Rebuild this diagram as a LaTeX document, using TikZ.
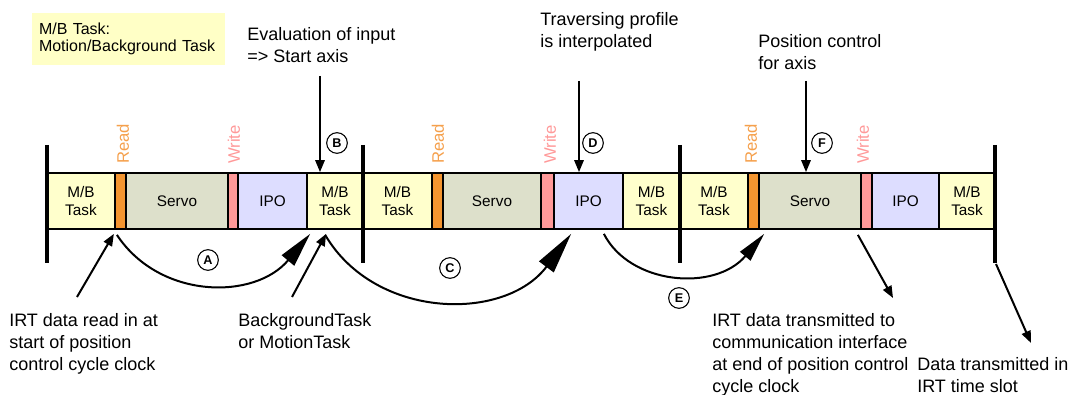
\documentclass[tikz,border=0pt]{standalone}
\usepackage{fontspec}
\setmainfont{Liberation Sans}
\usetikzlibrary{arrows.meta,calc}
\definecolor{mbc}{HTML}{FFFFCC}
\definecolor{servoc}{HTML}{DDE0CB}
\definecolor{ipoc}{HTML}{DDDDFF}
\definecolor{readc}{HTML}{F39530}
\definecolor{writec}{HTML}{FF9999}
\definecolor{readtxt}{HTML}{F5A04C}
\definecolor{legendc}{HTML}{FFFFC6}
\newcommand\blk[5]{\node[blockbase,#4,minimum width={(#3-#2)*0.75pt}] (#1) at ({(#2+#3)/2},201) {#5};}
\begin{document}
\begin{tikzpicture}[x=0.75pt,y=-0.75pt,
  blockbase/.style={draw=black,line width=1.3pt,minimum height=42pt,inner sep=0pt,align=center,
    font=\fontsize{11.5}{14}\selectfont},
  mbbox/.style={fill=mbc},
  servobox/.style={fill=servoc},
  ipobox/.style={fill=ipoc},
  readbox/.style={fill=readc},
  writebox/.style={fill=writec},
  bar/.style={line width=3pt},
  ann/.style={align=left,inner sep=0pt,font=\fontsize{13.5}{16.5}\selectfont},
  rwlabel/.style={rotate=90,anchor=west,inner sep=0pt,font=\fontsize{12.5}{14}\selectfont},
  circ/.style={circle,draw,line width=0.8pt,inner sep=0pt,minimum size=15.5pt,
    font=\fontsize{9.5}{11}\selectfont\bfseries},
  smallarr/.style={line width=1.5pt,-{Triangle[length=9pt,width=7pt]}},
  arcA/.style={line width=1.5pt,-{Triangle[length=26pt,width=12pt]}},
  arcC/.style={line width=1.5pt,-{Triangle[length=31pt,width=13.5pt]}},
  arcE/.style={line width=1.5pt,-{Triangle[length=22pt,width=10pt]}},
  legend/.style={fill=legendc,align=left,inner xsep=5.25pt,inner ysep=0pt,text width=134.25pt,
    minimum height=39pt,font=\fontsize{12}{12.75}\selectfont}
]
\useasboundingbox (0,0) rectangle (1087,395);

% legend
\node[legend] (legend) at (128.5,39) {M/B Task:\\Motion/Background Task};

% cycle 1
\blk{mb1}{47}{115}{mbbox}{M/B\\Task}
\blk{rd1}{115}{126}{readbox}{}
\blk{servo1}{126}{228}{servobox}{Servo}
\blk{wr1}{228}{238}{writebox}{}
\blk{ipo1}{238}{307}{ipobox}{IPO}
\blk{mb2}{307}{363}{mbbox}{M/B\\Task}
% cycle 2
\blk{mb3}{363}{432}{mbbox}{M/B\\Task}
\blk{rd2}{432}{443}{readbox}{}
\blk{servo2}{443}{541}{servobox}{Servo}
\blk{wr2}{541}{554}{writebox}{}
\blk{ipo2}{554}{623}{ipobox}{IPO}
\blk{mb4}{623}{680}{mbbox}{M/B\\Task}
% cycle 3
\blk{mb5}{680}{748}{mbbox}{M/B\\Task}
\blk{rd3}{748}{759}{readbox}{}
\blk{servo3}{759}{861}{servobox}{Servo}
\blk{wr3}{861}{872}{writebox}{}
\blk{ipo3}{872}{939}{ipobox}{IPO}
\blk{mb6}{939}{995}{mbbox}{M/B\\Task}

% cycle bars
\coordinate (bar1t) at (47,145);  \coordinate (bar1b) at (47,263);
\coordinate (bar2t) at (363,145); \coordinate (bar2b) at (363,263);
\coordinate (bar3t) at (680,145); \coordinate (bar3b) at (680,263);
\coordinate (bar4t) at (995,145); \coordinate (bar4b) at (995,263);
\draw[bar] (bar1t) -- (bar1b);
\draw[bar] (bar2t) -- (bar2b);
\draw[bar] (bar3t) -- (bar3b);
\draw[bar] (bar4t) -- (bar4b);

% Read / Write labels
\node[rwlabel,text=readtxt] (rl1) at (123,164) {Read};
\node[rwlabel,text=writec] (wl1) at (234,164) {Write};
\node[rwlabel,text=readtxt] (rl2) at (438,164) {Read};
\node[rwlabel,text=writec] (wl2) at (550,164) {Write};
\node[rwlabel,text=readtxt] (rl3) at (751,164) {Read};
\node[rwlabel,text=writec] (wl3) at (863,164) {Write};

% top annotations (base = last line's baseline)
\node[ann,anchor=base west] (eval) at (247,63) {Evaluation of input\\=> Start axis};
\node[ann,anchor=base west] (trav) at (540,48) {Traversing profile\\is interpolated};
\node[ann,anchor=base west] (pos) at (758,70) {Position control\\for axis};

\coordinate (bsrc) at (320,76);
\coordinate (dsrc) at (579,81);
\coordinate (fsrc) at (806,81);
\draw[smallarr] (bsrc) -- (bsrc |- mb2.north);
\draw[smallarr] (dsrc) -- (dsrc |- ipo2.north);
\draw[smallarr] (fsrc) -- (fsrc |- servo3.north);

\node[circ] (B) at (337,143) {B};
\node[circ] (D) at (593,143) {D};
\node[circ] (F) at (822,143) {F};

% bottom annotations
\node[ann,anchor=base west] (irt) at (9,370) {IRT data read in at\\start of position\\control cycle clock};
\node[ann,anchor=base west] (bgt) at (238,348) {BackgroundTask\\or MotionTask};
\node[ann,anchor=base west] (irtout) at (712,392) {IRT data transmitted to\\communication interface\\at end of position control\\cycle clock};
\node[ann,anchor=base west] (slot) at (917,392) {Data transmitted in\\IRT time slot};

\coordinate (irtsrc) at (77,297);
\coordinate (bgsrc) at (292,297);
\coordinate (outtip) at (893,298);
\coordinate (slottip) at (1031,343);

\draw[smallarr] (irtsrc) -- ($(mb1.south east)+(-2,4)$);
\draw[smallarr] (bgsrc) -- ($(mb2.south west)+(20,4)$);
\draw[smallarr] ($(servo3.south east)+(-4,5)$) -- (outtip);
\draw[smallarr] ($(bar4b)+(1,1)$) -- (slottip);

% arcs
\draw[arcA] ($(mb1.south east)+(1,5)$) .. controls (160,300) and (255,300) .. ($(mb2.south west)+(4,4)$);
\draw[arcC] ($(mb2.south west)+(19,5)$) .. controls (375,320) and (505,322) .. ($(ipo2.south west)+(18,4)$);
\draw[arcE] ($(ipo2.south east)+(-20,4)$) .. controls (630,285) and (715,292) .. ($(servo3.south west)+(6,4)$);

\node[circ] (A) at (208,260) {A};
\node[circ] (C) at (450,268) {C};
\node[circ] (E) at (679,298) {E};
\end{tikzpicture}
\end{document}
